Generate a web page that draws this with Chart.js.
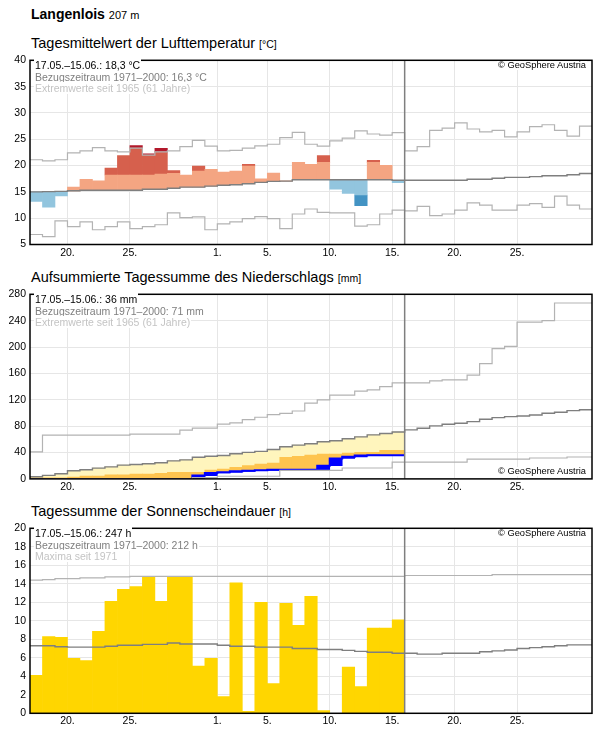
<!DOCTYPE html>
<html>
<head>
<meta charset="utf-8">
<title>Langenlois</title>
<script src="https://cdn.jsdelivr.net/npm/chart.js@4.4.1/dist/chart.umd.min.js"></script>
<style>
  body { margin: 0; background: #fff; font-family: "Liberation Sans", Arial, sans-serif; color: #000; }
  #page { position: relative; width: 596px; height: 729px; overflow: hidden; }
  #page canvas { position: absolute; left: 0; }
  .hdr, .title, .info, .copy { position: absolute; white-space: nowrap; line-height: 1; }
  .hdr { left: 31px; font-size: 14px; font-weight: bold; }
  .hdr small { font-size: 11px; font-weight: normal; }
  .title { left: 31px; font-size: 14.5px; }
  .title small { font-size: 10.5px; }
  .info { left: 34px; font-size: 10.5px; line-height: 11.7px; }
  .info span { background: #fff; padding: 0 1px; }
  .info .ref { color: #7f7f7f; }
  .info .ext { color: #c4c4c4; }
  .copy { right: 9px; font-size: 9.3px; background: #fff; padding: 0 1px; }
</style>
</head>
<body>
<div id="page">
  <div class="hdr" style="top:6.5px">Langenlois <small>207 m</small></div>

  <div class="title" style="top:36px">Tagesmittelwert der Lufttemperatur <small>[°C]</small></div>
  <canvas id="temp" width="596" height="215" style="top:50px"></canvas>
  <div class="info" style="top:59.8px"><span>17.05.–15.06.: 18,3 °C</span><br><span class="ref">Bezugszeitraum 1971–2000: 16,3 °C</span><br><span class="ext">Extremwerte seit 1965 (61 Jahre)</span></div>
  <div class="copy" style="top:61px">© GeoSphere Austria</div>

  <div class="title" style="top:270.2px">Aufsummierte Tagessumme des Niederschlags <small>[mm]</small></div>
  <canvas id="rain" width="596" height="215" style="top:284px"></canvas>
  <div class="info" style="top:293.8px"><span>17.05.–15.06.: 36 mm</span><br><span class="ref">Bezugszeitraum 1971–2000: 71 mm</span><br><span class="ext">Extremwerte seit 1965 (61 Jahre)</span></div>
  <div class="copy" style="top:467px">© GeoSphere Austria</div>

  <div class="title" style="top:504.2px">Tagessumme der Sonnenscheindauer <small>[h]</small></div>
  <canvas id="sun" width="596" height="211" style="top:518px"></canvas>
  <div class="info" style="top:527.8px"><span>17.05.–15.06.: 247 h</span><br><span class="ref">Bezugszeitraum 1971–2000: 212 h</span><br><span class="ext">Maxima seit 1971</span></div>
  <div class="copy" style="top:529px">© GeoSphere Austria</div>
</div>

<script>
// x axis: day index 0 = 17 May, shown up to 30 June
var tickDays = [3, 8, 15, 19, 24, 29, 34, 39];
var tickLabels = ['20.', '25.', '1.', '5.', '10.', '15.', '20.', '25.'];
var dayCount = 45;

// temperature, daily mean [°C]
var tempDay = [13.2, 12.1, 14.25, 15.9, 17.4, 17.1, 19.5, 21.9, 23.8, 22.25,
  23.25, 19.06, 18.2, 19.9, 19.3, 18.75, 18.94, 20.25, 17.5, 18.56,
  17.1, 20.6, 20.25, 21.9, 15.5, 14.7, 12.4, 21.0, 20.06, 16.75];
var tempNormHigh = [18.0, 18.0, 18.1, 18.1, 18.2, 18.2, 18.2, 18.2, 18.2, 18.2,
  18.4, 18.5, 18.7, 18.94, 19.5, 19.4, 19.6, 19.9, 20.0, 20.2,
  20.3, 21.0, 20.6, 20.6, 20.6, 20.6, 20.6, 20.6, 20.5, 20.4];
var tempNormLow = [12.0, 11.9, 12.1, 12.2, 12.3, 12.3, 12.3, 12.3, 12.3, 12.5,
  12.5, 12.7, 12.9, 12.9, 13.1, 13.25, 13.35, 13.55, 13.8, 14.0,
  14.05, 14.3, 14.3, 14.3, 14.4, 14.4, 14.4, 14.3, 14.3, 14.2];
var tempMean = [15.0, 15.05, 15.1, 15.2, 15.3, 15.3, 15.3, 15.3, 15.3, 15.5,
  15.5, 15.7, 15.9, 15.9, 16.1, 16.25, 16.35, 16.55, 16.8, 17.0,
  17.05, 17.3, 17.3, 17.3, 17.3, 17.3, 17.3, 17.3, 17.3, 17.2,
  17.2, 17.2, 17.2, 17.2, 17.2, 17.4, 17.4, 17.6, 17.75, 17.75,
  17.9, 18.05, 18.05, 18.25, 18.5];
var tempMax = [21.1, 20.9, 21.1, 22.4, 22.8, 23.4, 22.8, 22.6, 23.3, 22.0,
  22.6, 22.8, 23.6, 24.8, 23.7, 22.8, 22.9, 23.3, 23.75, 24.05,
  25.3, 26.3, 24.05, 23.7, 24.7, 25.2, 26.6, 26.0, 25.8, 26.25,
  22.8, 23.6, 26.7, 27.1, 28.1, 26.95, 26.4, 26.7, 25.45, 26.4,
  27.4, 27.75, 26.7, 25.6, 27.5];
var tempMin = [6.9, 6.5, 9.5, 8.4, 9.3, 7.8, 8.4, 9.3, 8.0, 8.4,
  8.75, 11.0, 10.1, 10.25, 7.8, 8.9, 9.3, 9.9, 10.3, 9.9,
  8.0, 10.8, 11.75, 11.1, 11.0, 11.0, 8.5, 8.75, 10.8, 11.55,
  11.4, 12.25, 10.5, 10.8, 11.55, 12.9, 12.5, 11.55, 11.55, 12.5,
  12.75, 12.05, 14.2, 12.5, 11.75];

// precipitation, accumulated [mm]
var rainSum = [0, 0, 0, 0, 0, 0, 0, 0, 0, 0,
  0, 0, 0, 5, 9, 10, 11.5, 12.5, 13, 14,
  14, 14, 14, 20, 31, 33.5, 35.5, 36, 36, 36];
var rainDryLimit = [1.5, 1.5, 1.8, 2.8, 4.3, 4.3, 6.3, 6.3, 7.3, 7.3,
  8.3, 9.8, 9.8, 9.8, 13.3, 15, 17.6, 20.1, 22.6, 24.1,
  32.7, 34.2, 36.2, 37.7, 37.7, 39.2, 40.2, 40.2, 43.2, 43.2];
var rainMean = [3.3, 5.3, 7.8, 12.3, 13.8, 16.3, 18.3, 20.9, 21.9, 22.9,
  24.4, 27.4, 28.9, 32.9, 34.4, 35.5, 38.2, 40.2, 41.7, 44.7,
  48.7, 51.3, 53.3, 56.3, 57.8, 60.8, 63.8, 66.8, 68.8, 71.2,
  74.4, 76.9, 80.4, 82.9, 84.4, 86.9, 90.5, 93, 94.5, 95.5,
  97, 99.5, 101, 103.5, 105];
var rainMax = [41, 66.5, 66.5, 66.5, 66.5, 66.5, 66.5, 66.5, 68, 68,
  68, 68, 74, 77, 77, 83, 85, 90, 93.5, 97.5,
  99.5, 103, 115, 120, 127, 127, 133, 135, 140, 145.7,
  145.7, 145.7, 148.7, 150.3, 150.3, 157.3, 175, 197.5, 201, 237.7,
  237.7, 240.2, 266.8, 266.8, 266.8];
var rainMin = [0, 0, 0, 0, 0, 0, 0, 0, 0, 0,
  0, 0, 0, 2, 2, 4, 4, 4, 4, 4,
  13, 13, 13, 13, 13, 16.5, 16.5, 16.5, 16.5, 25.5,
  25.5, 25.5, 25.5, 25.5, 25.5, 30, 30, 30, 30, 30,
  31.7, 31.7, 31.7, 33.2, 33.2];

// sunshine duration [h]
var sunDay = [4.1, 8.3, 8.2, 5.95, 5.7, 8.85, 12.1, 13.4, 13.7, 14.8,
  12.1, 14.8, 14.8, 5.1, 5.95, 1.8, 14.1, 0.2, 12.0, 3.2,
  11.9, 9.5, 12.65, 0.3, 0, 5.0, 2.9, 9.2, 9.2, 10.1];
var sunMean = [7.3, 7.3, 7.2, 7.15, 7.15, 7.15, 7.25, 7.35, 7.35, 7.45,
  7.45, 7.6, 7.5, 7.5, 7.5, 7.35, 7.25, 7.25, 7.15, 7.15,
  7.15, 7.0, 7.0, 6.9, 6.9, 6.8, 6.7, 6.6, 6.6, 6.5,
  6.5, 6.4, 6.4, 6.5, 6.5, 6.5, 6.65, 6.75, 6.85, 7.0,
  7.1, 7.2, 7.3, 7.4, 7.4];
var sunMax = [14.4, 14.45, 14.55, 14.55, 14.65, 14.65, 14.75, 14.75, 14.8, 14.8,
  14.8, 14.8, 14.8, 14.8, 14.8, 14.8, 14.8, 14.8, 14.8, 14.8,
  14.8, 14.8, 14.8, 14.8, 14.8, 14.8, 14.8, 14.8, 14.8, 14.8,
  14.9, 14.9, 14.9, 14.9, 14.9, 14.9, 14.9, 15.0, 15.0, 15.0,
  15.0, 15.0, 15.0, 15.0, 15.0];

var todayIndex = tempDay.length; // 16.06.

Chart.defaults.font.family = '"Liberation Sans", Arial, sans-serif';
Chart.defaults.font.size = 10.5;
Chart.defaults.color = '#000';

// one point per day start plus a closing point, drawn as steps
function steps(values) {
  var pts = values.map(function (v, i) { return { x: i, y: v }; });
  pts.push({ x: values.length, y: values[values.length - 1] });
  return pts;
}

function stepLine(values, color, width) {
  return {
    type: 'line', data: steps(values), borderColor: color, borderWidth: width,
    stepped: true, pointRadius: 0, fill: false, order: 0
  };
}

// pairs: [from, to] or null for each day
function floatBars(pairs, color, order) {
  var data = [];
  pairs.forEach(function (p, i) {
    if (p) data.push({ x: i + 0.5, y: p });
  });
  return {
    type: 'bar', data: data, backgroundColor: color, borderWidth: 0,
    grouped: false, barPercentage: 1, categoryPercentage: 1, order: order
  };
}

// black frame round the plot and grey line at the current day
var frame = {
  id: 'frame',
  afterDatasetsDraw: function (chart) {
    var ctx = chart.ctx, a = chart.chartArea;
    var xt = chart.scales.x.getPixelForValue(todayIndex);
    ctx.save();
    ctx.strokeStyle = '#7f7f7f';
    ctx.lineWidth = 1.5;
    ctx.beginPath();
    ctx.moveTo(xt, a.top);
    ctx.lineTo(xt, a.bottom);
    ctx.stroke();
    ctx.strokeStyle = '#000';
    ctx.lineWidth = 1.5;
    ctx.strokeRect(a.left, a.top, a.right - a.left, a.bottom - a.top);
    ctx.restore();
  }
};

function makeChart(id, yMin, yMax, yStep, xAxisHeight, datasets) {
  return new Chart(document.getElementById(id), {
    type: 'bar',
    data: { datasets: datasets },
    options: {
      responsive: false,
      animation: false,
      layout: { padding: { top: 9.3, right: 4, left: 0, bottom: 0 } },
      plugins: { legend: { display: false }, tooltip: { enabled: false } },
      scales: {
        x: {
          type: 'linear', min: 0, max: dayCount, offset: false,
          grid: { color: '#e6e6e6', drawTicks: false, offset: false },
          border: { display: false },
          afterBuildTicks: function (s) {
            s.ticks = tickDays.map(function (d) { return { value: d }; });
          },
          afterFit: function (s) { s.height = xAxisHeight; },
          ticks: {
            padding: 2, autoSkip: false, maxRotation: 0,
            callback: function (v) { return tickLabels[tickDays.indexOf(v)]; }
          }
        },
        y: {
          min: yMin, max: yMax, beginAtZero: false,
          grid: { color: '#e6e6e6', drawTicks: false },
          border: { display: false },
          afterFit: function (s) { s.width = 30; },
          ticks: { stepSize: yStep, padding: 4 }
        }
      }
    },
    plugins: [frame]
  });
}

// temperature: deviation bars from the reference mean
var warm = [], hot = [], record = [], cool = [], cold = [];
tempDay.forEach(function (v, i) {
  var m = tempMean[i], hi = tempNormHigh[i], lo = tempNormLow[i], rec = tempMax[i];
  warm.push(v > m ? [m, Math.min(v, hi)] : null);
  hot.push(v > hi ? [hi, Math.min(v, rec)] : null);
  record.push(v > rec ? [Math.max(hi, rec), v] : null);
  cool.push(v < m ? [Math.max(v, lo), m] : null);
  cold.push(v < lo ? [v, lo] : null);
});

makeChart('temp', 5, 40, 5, 20.5, [
  stepLine(tempMax, '#b3b3b3', 1.2),
  stepLine(tempMin, '#b3b3b3', 1.2),
  stepLine(tempMean, '#7f7f7f', 1.4),
  floatBars(warm, '#f4a582', 1),
  floatBars(hot, '#d6604d', 1),
  floatBars(record, '#b2182b', 1),
  floatBars(cool, '#92c5de', 1),
  floatBars(cold, '#4393c3', 1)
]);

// precipitation: gap between actual sum and reference sum
var dry = [], short = [], rainDays = [];
rainSum.forEach(function (v, i) {
  var t = rainDryLimit[i], m = rainMean[i];
  var prev = i > 0 ? rainSum[i - 1] : 0;
  dry.push(v < t ? [v, t] : null);
  short.push(v < m ? [Math.max(v, t), m] : null);
  rainDays.push(v > prev ? [prev, v] : null);
});

makeChart('rain', 0, 280, 40, 20.1, [
  stepLine(rainMax, '#b3b3b3', 1.2),
  stepLine(rainMin, '#b3b3b3', 1.2),
  stepLine(rainMean, '#7f7f7f', 1.4),
  stepLine(rainSum, '#0000ff', 2),
  floatBars(rainDays, '#0000ff', 1),
  floatBars(dry, '#fec44f', 2),
  floatBars(short, '#fff5bd', 2)
]);

// sunshine: plain daily bars
var sunBars = sunDay.map(function (v) { return v > 0 ? [0, v] : null; });

makeChart('sun', 0, 20, 2, 15.7, [
  stepLine(sunMax, '#b3b3b3', 1.2),
  stepLine(sunMean, '#7f7f7f', 1.4),
  floatBars(sunBars, '#ffd600', 1)
]);
</script>
</body>
</html>
